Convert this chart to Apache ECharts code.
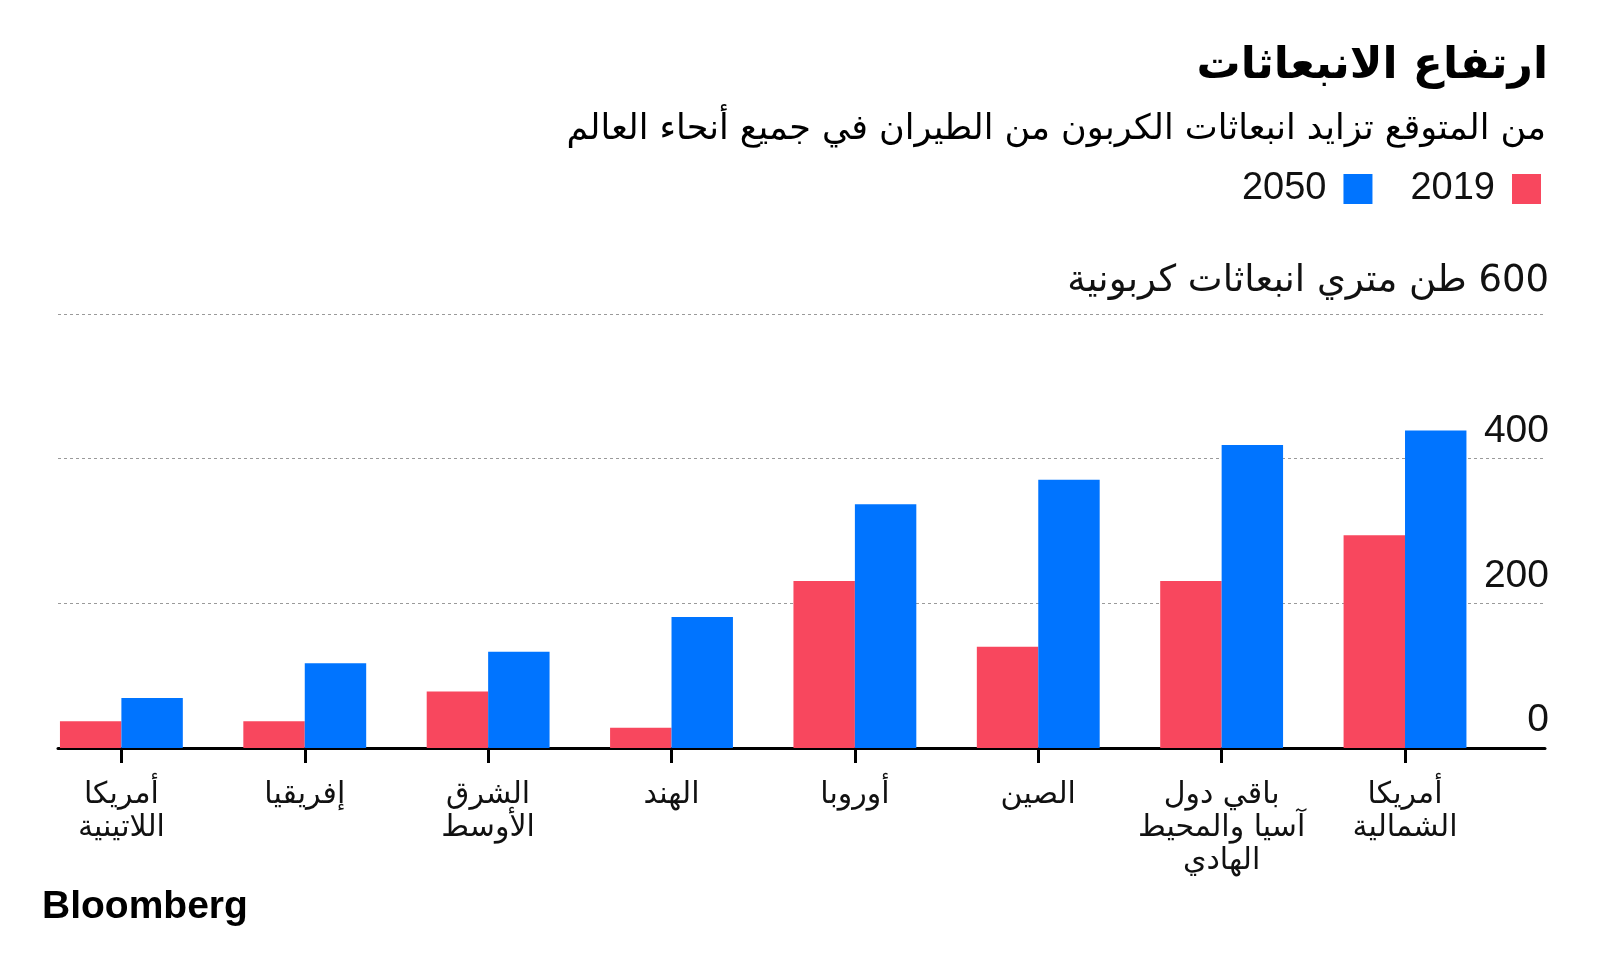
<!DOCTYPE html>
<html lang="ar">
<head>
<meta charset="utf-8">
<script src="https://cdn.jsdelivr.net/npm/echarts@6/dist/echarts.min.js"></script>
<style>
html,body{margin:0;padding:0;background:#fff;}
#chart{width:1600px;height:969px;}
</style>
</head>
<body>
<div id="chart" dir="rtl"></div>
<script>
// ---- data ----
const categories = ['أمريكا\nاللاتينية', 'إفريقيا', 'الشرق\nالأوسط', 'الهند', 'أوروبا', 'الصين', 'باقي دول\nآسيا والمحيط\nالهادي', 'أمريكا\nالشمالية'];
const seriesNames = ['2019', '2050'];
const values2019 = [37, 37, 78, 28, 231, 140, 231, 294];
const values2050 = [69, 117, 133, 181, 337, 371, 419, 439];
const yTicks = [0, 200, 400, 600];
const yUnit = 'طن متري انبعاثات كربونية';
const titleText = 'ارتفاع الانبعاثات';
const subtitleText = 'من المتوقع تزايد انبعاثات الكربون من الطيران في جميع أنحاء العالم';
const sourceText = 'Bloomberg';

const AR = '"DejaVu Sans", "Noto Sans", sans-serif';
const NUM = '"Liberation Sans", Arial, sans-serif';
const RED = '#f8475e';
const BLUE = '#0074ff';

const chart = echarts.init(document.getElementById('chart'), null, {renderer: 'canvas'});
const option = {
  backgroundColor: '#fff',
  animation: false,
  title: [
    {text: titleText, right: 47, top: 40, textStyle: {fontFamily: AR, fontWeight: 'bold', fontSize: 44, color: '#000'}},
    {text: subtitleText, right: 49, top: 107, textStyle: {fontFamily: AR, fontWeight: 'normal', fontSize: 35, color: '#000'}},
    {text: sourceText, left: 37, top: 883, textStyle: {fontFamily: NUM, fontWeight: 'bold', fontSize: 39, color: '#000'}}
  ],
  legend: {
    data: [seriesNames[1], seriesNames[0]],
    right: 54, top: 165,
    align: 'right',
    itemWidth: 29, itemHeight: 30, itemGap: 38,
    icon: 'rect',
    textStyle: {fontFamily: NUM, fontSize: 38, color: '#111', padding: [0, 12, 0, 0]}
  },
  grid: [
    {left: 29.7, right: 103.3, top: 314, bottom: 221},
    {left: 58, right: 55, top: 314, bottom: 221}
  ],
  xAxis: [
    {
      type: 'category', gridIndex: 0, data: categories,
      axisLine: {show: false},
      axisTick: {show: true, alignWithLabel: true, length: 15, lineStyle: {color: '#000', width: 3}},
      axisLabel: {fontFamily: AR, fontSize: 30, color: '#111', lineHeight: 33, margin: 31, verticalAlign: 'top', interval: 0}
    },
    {
      type: 'value', gridIndex: 1, min: 0, max: 1,
      axisLine: {show: true, onZero: false, lineStyle: {color: '#000', width: 3}},
      axisTick: {show: false}, axisLabel: {show: false}, splitLine: {show: false}
    }
  ],
  yAxis: [
    {type: 'value', gridIndex: 0, min: yTicks[0], max: yTicks[yTicks.length - 1], interval: 200, show: false},
    {
      type: 'value', gridIndex: 1, position: 'right',
      min: yTicks[0], max: yTicks[yTicks.length - 1], interval: 200,
      axisLine: {show: false}, axisTick: {show: false},
      splitLine: {show: true, lineStyle: {color: '#9a9a9a', width: 1, type: [3, 3]}},
      axisLabel: {
        margin: 4, align: 'right', verticalAlign: 'bottom',
        padding: [0, 0, 8, 0],
        fontFamily: NUM, fontSize: 39, color: '#111',
        formatter: function (v) {
          return v === yTicks[yTicks.length - 1] ? '{top|' + v + ' ' + yUnit + '}' : String(v);
        },
        rich: {
          top: {fontFamily: AR, fontSize: 37, color: '#111', padding: [0, 0, 6, 0]}
        }
      }
    }
  ],
  series: [
    {name: seriesNames[0], type: 'bar', xAxisIndex: 0, yAxisIndex: 0, data: values2019, barGap: '0%', barCategoryGap: '33%', itemStyle: {color: RED}},
    {name: seriesNames[1], type: 'bar', xAxisIndex: 0, yAxisIndex: 0, data: values2050, barGap: '0%', barCategoryGap: '33%', itemStyle: {color: BLUE}}
  ]
};
chart.setOption(option);
</script>
</body>
</html>
